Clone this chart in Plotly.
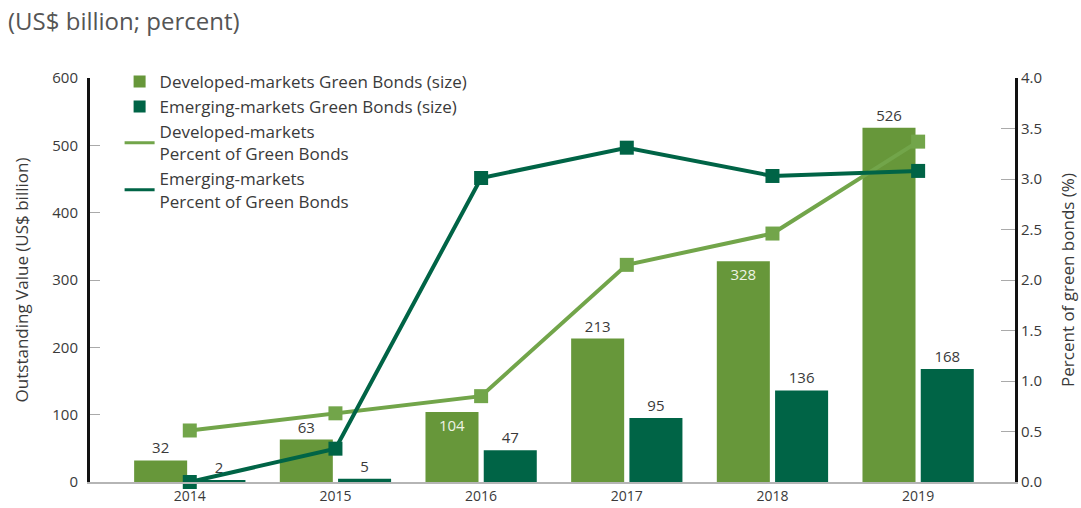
import plotly.graph_objects as go

years = ["2014", "2015", "2016", "2017", "2018", "2019"]

# Outstanding value, US$ billion
developed_size = [32, 63, 104, 213, 328, 526]
emerging_size = [2, 5, 47, 95, 136, 168]

# Share of green bonds, percent
developed_pct = [0.51, 0.68, 0.85, 2.15, 2.46, 3.37]
emerging_pct = [0.0, 0.33, 3.01, 3.31, 3.03, 3.08]

left_ticks = [0, 100, 200, 300, 400, 500, 600]
right_ticks = [0.0, 0.5, 1.0, 1.5, 2.0, 2.5, 3.0, 3.5, 4.0]

DEV_BAR = "#67973a"
DEV_LINE = "#72a54a"
EM = "#006446"
TEXT = "#3a3a3a"
FONT = "Open Sans"

# labels that sit inside the top of their bar
dev_pos = ["outside", "outside", "inside", "outside", "inside", "outside"]
dev_text_col = ["#eef3e6" if p == "inside" else TEXT for p in dev_pos]

fig = go.Figure()

fig.add_trace(go.Bar(
    x=years, y=developed_size, name="Developed-markets Green Bonds (size)",
    marker=dict(color=DEV_BAR, line=dict(width=0)),
    text=[str(v) for v in developed_size], textposition=dev_pos,
    insidetextanchor="end",
    textfont=dict(family=FONT, size=15, color=dev_text_col),
    cliponaxis=False,
))
fig.add_trace(go.Bar(
    x=years, y=emerging_size, name="Emerging-markets Green Bonds (size)",
    marker=dict(color=EM, line=dict(width=0)),
    text=[str(v) for v in emerging_size], textposition="outside",
    textfont=dict(family=FONT, size=15, color=TEXT),
    cliponaxis=False,
))

fig.add_trace(go.Scatter(
    x=years, y=developed_pct, yaxis="y2", mode="lines+markers",
    line=dict(color=DEV_LINE, width=4),
    marker=dict(symbol="square", size=14, color=DEV_LINE),
    showlegend=False, cliponaxis=False,
))
fig.add_trace(go.Scatter(
    x=years, y=emerging_pct, yaxis="y2", mode="lines+markers",
    line=dict(color=EM, width=4),
    marker=dict(symbol="square", size=14, color=EM),
    showlegend=False, cliponaxis=False,
))

# legend entries for the two lines (line swatch only)
fig.add_trace(go.Scatter(
    x=[None], y=[None], yaxis="y2", mode="lines",
    line=dict(color=DEV_LINE, width=3),
    name="Developed-markets<br>Percent of Green Bonds",
))
fig.add_trace(go.Scatter(
    x=[None], y=[None], yaxis="y2", mode="lines",
    line=dict(color=EM, width=3),
    name="Emerging-markets<br>Percent of Green Bonds",
))

fig.update_layout(
    width=1081, height=508,
    margin=dict(l=90, r=66, t=78, b=26, autoexpand=False),
    paper_bgcolor="white", plot_bgcolor="white",
    font=dict(family=FONT, size=15, color=TEXT),
    barmode="group", bargap=0.2, bargroupgap=0.09,
    showlegend=True,
    legend=dict(
        x=0.032, y=1.035, xanchor="left", yanchor="top",
        bgcolor="rgba(0,0,0,0)", font=dict(family=FONT, size=17, color=TEXT),
        itemwidth=30,
    ),
    xaxis=dict(
        type="category", range=[-0.685, 5.665], automargin=False,
        showline=True, linecolor="#b5b5b5", linewidth=2,
        showgrid=False, ticks="", zeroline=False,
        tickfont=dict(family=FONT, size=14, color=TEXT),
    ),
    yaxis=dict(
        range=[0, 600], tickvals=left_ticks, automargin=False,
        showline=True, linecolor="#111111", linewidth=3,
        showgrid=False, zeroline=False,
        ticks="inside", ticklen=10, tickwidth=1, tickcolor="#aaaaaa",
        ticklabelstandoff=6,
        tickfont=dict(family=FONT, size=15, color=TEXT),
        title=dict(text="Outstanding Value (US$ billion)", standoff=20,
                   font=dict(family=FONT, size=17, color=TEXT)),
    ),
    yaxis2=dict(
        range=[0, 4.0], tickvals=right_ticks, tickformat=".1f",
        overlaying="y", side="right", automargin=False,
        showline=True, linecolor="#111111", linewidth=3,
        showgrid=False, zeroline=False,
        ticks="inside", ticklen=14, tickwidth=1, tickcolor="#aaaaaa",
        tickfont=dict(family=FONT, size=15, color=TEXT),
        title=dict(text="Percent of green bonds (%)", standoff=22,
                   font=dict(family=FONT, size=17, color=TEXT)),
    ),
    annotations=[dict(
        text="(US$ billion; percent)", x=0, y=1, xref="paper", yref="paper",
        xanchor="left", yanchor="top", showarrow=False,
        xshift=-84, yshift=76,
        font=dict(family=FONT, size=24, color="#555555"),
    )],
)

fig.write_html("out.html")
